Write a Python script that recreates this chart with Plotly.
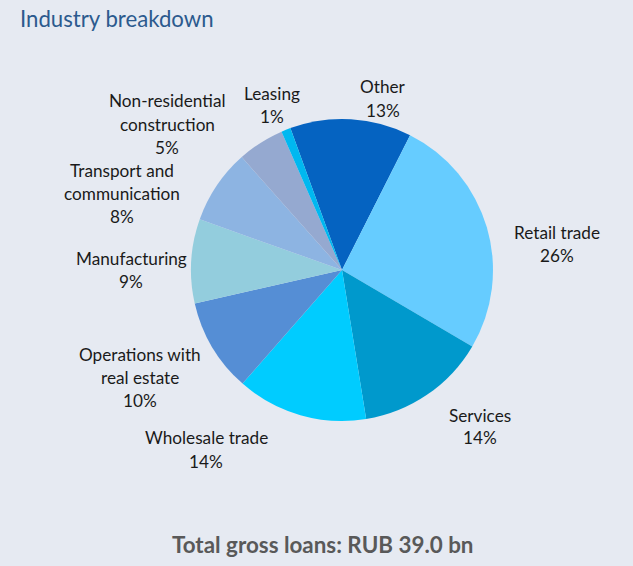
import plotly.graph_objects as go

# Loan portfolio by industry, in percent of total gross loans
categories = ["Other", "Retail trade", "Services", "Wholesale trade",
              "Operations with real estate", "Manufacturing",
              "Transport and communication", "Non-residential construction",
              "Leasing"]
shares = [13, 26, 14, 14, 10, 9, 8, 5, 1]
colors = ["#0563C1", "#66CCFF", "#0099CC", "#00CCFF", "#558ED5",
          "#93CDDD", "#8DB4E2", "#95A9D0", "#00B8F0"]

# label lines (name split over lines) and their anchor (center x, first line y) in pixels
label_lines = [["Other"], ["Retail trade"], ["Services"], ["Wholesale trade"],
               ["Operations with", "real estate"], ["Manufacturing"],
               ["Transport and", "communication"], ["Non-residential", "construction"],
               ["Leasing"]]
label_pos = [(383, 87), (557, 232), (480, 415), (206, 438), (140, 354),
             (131, 258), (122, 170), (167, 101), (272, 93)]

W, H = 633, 566
BG = "#E6EAF2"
LINE = 23

fig = go.Figure(go.Pie(
    labels=categories,
    values=shares,
    sort=False,
    direction="clockwise",
    rotation=-20,
    marker=dict(colors=colors, line=dict(width=0)),
    textinfo="none",
    hoverinfo="label+percent",
    domain=dict(x=[(342 - 151) / W, (342 + 151) / W],
                y=[(H - 270 - 151) / H, (H - 270 + 151) / H]),
    showlegend=False,
))

annotations = []
for lines, share, (cx, cy) in zip(label_lines, shares, label_pos):
    for i, txt in enumerate(lines + [f"{share}%"]):
        annotations.append(dict(
            x=cx / W, y=1 - (cy + i * LINE) / H, xref="paper", yref="paper",
            text=txt, showarrow=False, xanchor="center", yanchor="middle",
            font=dict(family="Lato", size=17.2, color="#1A1A1A"),
        ))

annotations.append(dict(
    x=18 / W, y=1 - 18 / H, xref="paper", yref="paper",
    text="Industry breakdown", showarrow=False, xanchor="left", yanchor="middle",
    font=dict(family="Lato", size=22.2, color="#2C5A8E"),
))
annotations.append(dict(
    x=323 / W, y=1 - 544 / H, xref="paper", yref="paper",
    text="<b>Total gross loans: RUB 39.0 bn</b>", showarrow=False,
    xanchor="center", yanchor="middle",
    font=dict(family="Lato", size=22.4, color="#595959"),
))

fig.update_layout(
    width=W, height=H,
    margin=dict(l=0, r=0, t=0, b=0),
    paper_bgcolor=BG, plot_bgcolor=BG,
    annotations=annotations,
)

fig.write_html("out.html")
